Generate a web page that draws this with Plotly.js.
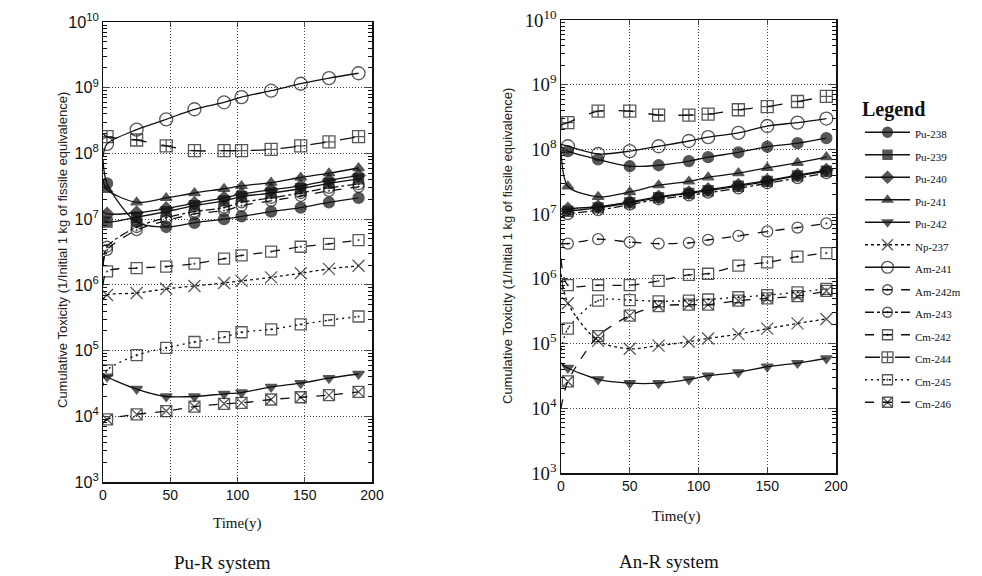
<!DOCTYPE html>
<html><head><meta charset="utf-8">
<script src="https://cdn.plot.ly/plotly-3.0.1.min.js"></script>
<style>html,body{margin:0;padding:0;background:#fff}#c{width:982px;height:576px}</style>
</head><body><div id="c"></div>
<script>
// Time (years)
const tL = [0, 3, 25, 47, 68, 90, 103, 125, 147, 168, 190];
const tR = [0, 5, 27, 50, 71, 93, 107, 129, 150, 172, 193];

// Pu-R system
const L_Pu238  = [8e7, 3.5e7, 9.0e6, 7.6e6, 8.8e6, 1.0e7, 1.1e7, 1.3e7, 1.5e7, 1.8e7, 2.1e7];
const L_Pu239  = [1.0e7, 9e6, 1.07e7, 1.3e7, 1.6e7, 1.9e7, 2.2e7, 2.5e7, 2.9e7, 3.5e7, 4.1e7];
const L_Pu240  = [1.3e7, 1.2e7, 1.25e7, 1.45e7, 1.75e7, 2.1e7, 2.4e7, 2.8e7, 3.2e7, 3.9e7, 4.6e7];
const L_Pu241  = [4e7, 2.8e7, 1.8e7, 2.1e7, 2.5e7, 2.9e7, 3.2e7, 3.6e7, 4.3e7, 5.0e7, 6.0e7];
const L_Pu242  = [4.5e4, 4e4, 2.6e4, 2.0e4, 2.0e4, 2.2e4, 2.3e4, 2.8e4, 3.2e4, 3.8e4, 4.4e4];
const L_Np237  = [6e5, 7e5, 7.5e5, 8.7e5, 9.6e5, 1.07e6, 1.15e6, 1.3e6, 1.5e6, 1.75e6, 1.95e6];
const L_Am241  = [9e7, 1.4e8, 2.3e8, 3.3e8, 4.7e8, 6e8, 7.2e8, 9e8, 1.15e9, 1.4e9, 1.66e9];
const L_Am242m = [2e6, 3.4e6, 6.8e6, 9.5e6, 1.2e7, 1.35e7, 1.6e7, 1.9e7, 2.25e7, 2.7e7, 3.1e7];
const L_Am243  = [2e6, 3.8e6, 7.6e6, 1.05e7, 1.3e7, 1.5e7, 1.8e7, 2.1e7, 2.5e7, 3.0e7, 3.4e7];
const L_Cm242  = [1.0e6, 1.6e6, 1.8e6, 1.9e6, 2.1e6, 2.5e6, 2.8e6, 3.2e6, 3.8e6, 4.2e6, 4.8e6];
const L_Cm244  = [2e8, 1.8e8, 1.6e8, 1.3e8, 1.1e8, 1.1e8, 1.1e8, 1.15e8, 1.3e8, 1.5e8, 1.8e8];
const L_Cm245  = [3e4, 5e4, 8.5e4, 1.1e5, 1.35e5, 1.6e5, 1.9e5, 2.1e5, 2.5e5, 2.9e5, 3.3e5];
const L_Cm246  = [8e3, 9e3, 1.07e4, 1.2e4, 1.4e4, 1.55e4, 1.6e4, 1.8e4, 1.95e4, 2.1e4, 2.35e4];

// An-R system
const R_Pu238  = [1.1e8, 9.4e7, 7e7, 5.5e7, 5.7e7, 6.6e7, 7.6e7, 9e7, 1.1e8, 1.25e8, 1.5e8];
const R_Pu239  = [1.0e7, 1.1e7, 1.25e7, 1.5e7, 1.8e7, 2.1e7, 2.3e7, 2.7e7, 3.2e7, 3.9e7, 4.6e7];
const R_Pu240  = [1.1e7, 1.2e7, 1.3e7, 1.55e7, 1.85e7, 2.15e7, 2.4e7, 2.8e7, 3.3e7, 4.0e7, 4.8e7];
const R_Pu241  = [1e8, 2.7e7, 1.85e7, 2.2e7, 2.8e7, 3.2e7, 3.7e7, 4.3e7, 5.2e7, 6.2e7, 7.6e7];
const R_Pu242  = [5e4, 4.2e4, 2.8e4, 2.45e4, 2.45e4, 2.8e4, 3.2e4, 3.6e4, 4.4e4, 5e4, 5.9e4];
const R_Np237  = [1.2e6, 4.2e5, 1.1e5, 8.3e4, 9.3e4, 1.07e5, 1.2e5, 1.4e5, 1.7e5, 2.05e5, 2.4e5];
const R_Am241  = [1.2e8, 1.12e8, 8.5e7, 9.4e7, 1.12e8, 1.35e8, 1.55e8, 1.8e8, 2.3e8, 2.6e8, 3e8];
const R_Am242m = [3.5e6, 3.5e6, 4.1e6, 3.7e6, 3.5e6, 3.6e6, 4e6, 4.6e6, 5.4e6, 6.2e6, 7.2e6];
const R_Am243  = [9e6, 1.0e7, 1.15e7, 1.4e7, 1.7e7, 1.95e7, 2.15e7, 2.5e7, 3.0e7, 3.6e7, 4.3e7];
const R_Cm242  = [2e6, 8e5, 8e5, 8e5, 9.3e5, 1.15e6, 1.2e6, 1.6e6, 1.8e6, 2.2e6, 2.5e6];
const R_Cm244  = [2.4e8, 2.6e8, 3.9e8, 3.9e8, 3.4e8, 3.4e8, 3.5e8, 4.1e8, 4.6e8, 5.5e8, 6.6e8];
const R_Cm245  = [8e4, 1.7e5, 4.6e5, 4.7e5, 4.5e5, 4.6e5, 4.8e5, 5.2e5, 5.6e5, 6.2e5, 7e5];
const R_Cm246  = [1e4, 2.6e4, 1.3e5, 2.7e5, 3.8e5, 4e5, 4e5, 4.6e5, 5e5, 5.4e5, 6.5e5];

const names = ["Pu-238","Pu-239","Pu-240","Pu-241","Pu-242","Np-237","Am-241","Am-242m","Am-243","Cm-242","Cm-244","Cm-245","Cm-246"];
const leftSeries  = [L_Pu238,L_Pu239,L_Pu240,L_Pu241,L_Pu242,L_Np237,L_Am241,L_Am242m,L_Am243,L_Cm242,L_Cm244,L_Cm245,L_Cm246];
const rightSeries = [R_Pu238,R_Pu239,R_Pu240,R_Pu241,R_Pu242,R_Np237,R_Am241,R_Am242m,R_Am243,R_Cm242,R_Cm244,R_Cm245,R_Cm246];

const styles = [
  {sym:"circle", size:11, dash:"solid"},
  {sym:"square", size:10, dash:"solid"},
  {sym:"diamond", size:10, dash:"solid"},
  {sym:"triangle-up", size:10, dash:"solid"},
  {sym:"triangle-down", size:10, dash:"solid"},
  {sym:"x-thin-open", size:12, dash:"dot"},
  {sym:"circle-open", size:13, dash:"solid"},
  {sym:"circle-open-dot", size:11, dash:"dash"},
  {sym:"circle-open-dot", size:11, dash:"dashdot"},
  {sym:"square-open-dot", size:11, dash:"dash"},
  {sym:"square-cross-open", size:12, dash:"longdash"},
  {sym:"square-open-dot", size:11, dash:"2px,4px"},
  {sym:"square-x-open", size:11, dash:"dash"}
];

const traces = [];
function addSet(t, series, xa, ya, legend) {
  series.forEach((ys, i) => {
    const st = styles[i];
    traces.push({
      type: "scatter", mode: "lines+markers",
      x: t, y: ys, xaxis: xa, yaxis: ya,
      name: '<span style="font-size:11px">' + names[i] + '</span>',
      showlegend: legend,
      line: {color: "#111", width: 1.3, dash: st.dash, shape: "spline", smoothing: 0.8},
      marker: {symbol: st.sym, size: t.map((v, k) => k === 0 ? 0 : st.size), color: "#111",
               line: {color: "#111", width: 1.3}},
      cliponaxis: true
    });
  });
}
addSet(tL, leftSeries, "x", "y", true);
addSet(tR, rightSeries, "x2", "y2", false);

const W = 982, H = 576;
const xbase = {
  range: [0, 200], dtick: 50, tick0: 0, ticks: "inside", ticklen: 5,
  showline: true, linecolor: "#111", linewidth: 1.5, mirror: "allticks",
  showgrid: true, gridcolor: "#444", griddash: "1px,2px", gridwidth: 1,
  zeroline: false, tickfont: {family: "Liberation Sans, Arial", size: 14, color: "#111"}
};
function ybase(fontFam, fontSize) {
  return {
    type: "log", range: [3, 10], dtick: 1, tick0: 0, exponentformat: "power",
    ticks: "inside", ticklen: 7, showline: true, linecolor: "#111", linewidth: 1.5,
    mirror: "allticks", showgrid: true, gridcolor: "#444", griddash: "1px,2px", gridwidth: 1,
    zeroline: false, minor: {ticks: "inside", ticklen: 4, tickcolor: "#111", showgrid: false},
    tickfont: {family: fontFam, size: fontSize, color: "#111"}
  };
}

const layout = {
  width: W, height: H, margin: {l: 0, r: 0, t: 0, b: 0},
  paper_bgcolor: "#fff", plot_bgcolor: "#fff", showlegend: true,
  xaxis: Object.assign({}, xbase, {domain: [103/W, 372/W], anchor: "y"}),
  yaxis: Object.assign(ybase("Liberation Sans, Arial", 13), {domain: [(H-482)/H, (H-22)/H], anchor: "x"}),
  xaxis2: Object.assign({}, xbase, {domain: [561/W, 836/W], anchor: "y2"}),
  yaxis2: Object.assign(ybase("Liberation Serif, Times New Roman", 15), {domain: [(H-473)/H, (H-20)/H], anchor: "x2"}),
  legend: {
    x: 860/W, xanchor: "left", y: 1 - 90/H, yanchor: "top",
    bgcolor: "rgba(0,0,0,0)", borderwidth: 0, itemwidth: 45,
    font: {family: "Liberation Serif, Times New Roman", size: 15, color: "#111"},
    title: {text: "<b>Legend</b>", font: {family: "Liberation Serif, Times New Roman", size: 20, color: "#111"}, side: "top"},
    tracegroupgap: 0
  },
  annotations: [
    {text: "Cumulative Toxicity (1/Initial 1 kg of fissile equivalence)", xref: "paper", yref: "paper",
     x: 62/W, y: 1 - 250/H, textangle: -90, showarrow: false, xanchor: "center", yanchor: "middle",
     font: {family: "Liberation Sans, Arial", size: 13, color: "#222"}},
    {text: "Cumulative Toxicity (1/Initial 1 kg of fissile equivalence)", xref: "paper", yref: "paper",
     x: 508/W, y: 1 - 246/H, textangle: -90, showarrow: false, xanchor: "center", yanchor: "middle",
     font: {family: "Liberation Sans, Arial", size: 13, color: "#222"}},
    {text: "Time(y)", xref: "paper", yref: "paper", x: 237/W, y: 1 - 523/H, showarrow: false,
     xanchor: "center", yanchor: "middle", font: {family: "Liberation Serif, Times New Roman", size: 15, color: "#111"}},
    {text: "Time(y)", xref: "paper", yref: "paper", x: 676/W, y: 1 - 516/H, showarrow: false,
     xanchor: "center", yanchor: "middle", font: {family: "Liberation Serif, Times New Roman", size: 15, color: "#111"}},
    {text: "Pu-R system", xref: "paper", yref: "paper", x: 222/W, y: 1 - 562/H, showarrow: false,
     xanchor: "center", yanchor: "middle", font: {family: "Liberation Serif, Times New Roman", size: 19, color: "#111"}},
    {text: "An-R system", xref: "paper", yref: "paper", x: 669/W, y: 1 - 561/H, showarrow: false,
     xanchor: "center", yanchor: "middle", font: {family: "Liberation Serif, Times New Roman", size: 19, color: "#111"}}
  ]
};

Plotly.newPlot("c", traces, layout, {staticPlot: true, displayModeBar: false});
</script></body></html>
